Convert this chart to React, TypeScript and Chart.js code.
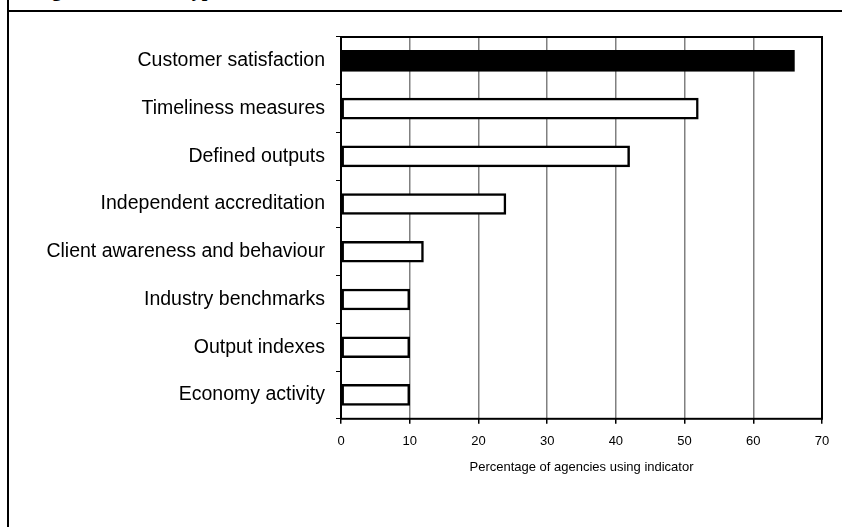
import React, { useEffect, useRef } from "react";
import { Chart, registerables } from "chart.js";

Chart.register(...registerables);

const categories = [
  "Customer satisfaction",
  "Timeliness measures",
  "Defined outputs",
  "Independent accreditation",
  "Client awareness and behaviour",
  "Industry benchmarks",
  "Output indexes",
  "Economy activity",
];
const values = [66, 52, 42, 24, 12, 10, 10, 10];
const fillColors = ["#000000", "#ffffff", "#ffffff", "#ffffff", "#ffffff", "#ffffff", "#ffffff", "#ffffff"];
const xTitle = "Percentage of agencies using indicator";
const figureLabel = "Figure 5.3";
const figureTitle = "Types of indicators used";

const frame = {
  id: "frame",
  afterDatasetsDraw(chart: any) {
    const { ctx, chartArea } = chart;
    ctx.save();
    ctx.strokeStyle = "#000";
    ctx.lineWidth = 2;
    ctx.strokeRect(chartArea.left, chartArea.top, chartArea.right - chartArea.left, chartArea.bottom - chartArea.top);
    ctx.restore();
  },
};

export default function App() {
  const ref = useRef<HTMLCanvasElement>(null);
  useEffect(() => {
    const chart = new Chart(ref.current!, {
      type: "bar",
      data: {
        labels: categories,
        datasets: [
          {
            data: values,
            backgroundColor: fillColors,
            borderColor: "#000",
            borderWidth: 2.5,
            borderSkipped: false,
            barThickness: 21,
          },
        ],
      },
      options: {
        indexAxis: "y",
        animation: false,
        responsive: false,
        maintainAspectRatio: false,
        layout: { padding: { left: 0, right: 20, top: 37, bottom: 52 } },
        plugins: { legend: { display: false }, tooltip: { enabled: false } },
        scales: {
          x: {
            min: 0,
            max: 70,
            ticks: {
              stepSize: 10,
              color: "#000",
              padding: 10,
              font: { family: "Liberation Sans, Arial", size: 13 },
            },
            grid: { color: "#808080", lineWidth: 1.5, tickColor: "#000", tickLength: 5 },
            border: { display: false },
            title: {
              display: true,
              text: xTitle,
              color: "#000",
              padding: { top: 0, bottom: 0 },
              font: { family: "Liberation Sans, Arial", size: 13 },
            },
          },
          y: {
            afterFit(scale: any) {
              scale.width = 341;
            },
            ticks: {
              color: "#000",
              padding: 11,
              font: { family: "Liberation Sans, Arial", size: 19.5 },
            },
            grid: { drawOnChartArea: false, tickColor: "#000", tickLength: 5, offset: true },
            border: { display: false },
          },
        },
      },
      plugins: [frame],
    });
    return () => chart.destroy();
  }, []);
  const titleStyle: React.CSSProperties = {
    position: "absolute",
    top: -22,
    fontFamily: "Liberation Serif, Times New Roman, serif",
    fontWeight: "bold",
    fontSize: 20,
    whiteSpace: "nowrap",
    lineHeight: "23px",
  };
  return (
    <div style={{ position: "fixed", left: 0, top: 0, width: 842, height: 527, background: "#fff", overflow: "hidden" }}>
      <div style={{ ...titleStyle, left: 34 }}>{figureLabel}</div>
      <div style={{ ...titleStyle, left: 180 }}>{figureTitle}</div>
      <div style={{ position: "absolute", left: 7, top: 10, width: 835, height: 2, background: "#000" }} />
      <div style={{ position: "absolute", left: 7, top: 0, width: 2, height: 527, background: "#000" }} />
      <canvas ref={ref} width={842} height={527} style={{ position: "absolute", left: 0, top: 0 }} />
    </div>
  );
}
